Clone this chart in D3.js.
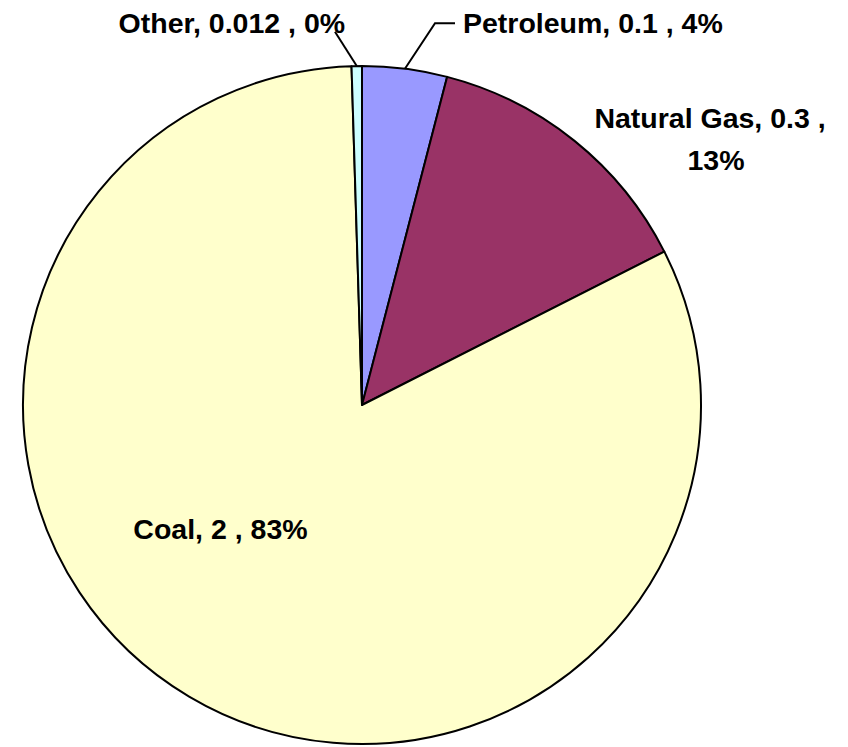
<!DOCTYPE html>
<html>
<head>
<meta charset="utf-8">
<script src="https://cdn.jsdelivr.net/npm/d3@7"></script>
<style>
  body { margin: 0; background: #fff; }
  text { font-family: "Liberation Sans", Arial, sans-serif; font-weight: bold; font-size: 28.5px; fill: #000; }
</style>
</head>
<body>
<div id="chart"></div>
<script>
// data
const categories = ["Petroleum", "Natural Gas", "Coal", "Other"];
const values = [0.0986, 0.329, 2.0, 0.012];
const valueLabels = ["0.1", "0.3", "2", "0.012"];
const pctLabels = ["4%", "13%", "83%", "0%"];

// constants
const w = 848,
      h = 747,
      cx = 362,
      cy = 405,
      r = 339;

const colors = ["#9999FF", "#993366", "#FFFFCC", "#CCFFFF"];

// label placement (polar, degrees clockwise from top)
const labelPos = [
  { a: 15.19, r: 385.5, anchor: "start" },
  { a: 51.45, r: 445, anchor: "middle" },
  { a: 226.56, r: 194.9, anchor: "middle" },
  { a: 357.4, r: 372.4, anchor: "end" }
];
// leader lines: end point in polar, optional horizontal tail
const leaders = {
  0: { a: 10.83, r: 388.6, tail: 20 },
  3: { a: 355.86, r: 374.3, tail: 0 }
};

const polar = (deg, rad) => {
  let t = deg * Math.PI / 180;
  return [rad * Math.sin(t), -rad * Math.cos(t)];
};

let svg = d3.select("#chart")
            .append("svg")
            .attr("width", w)
            .attr("height", h);

let g = svg.append("g")
           .attr("transform", `translate(${cx}, ${cy})`);

let pie = d3.pie().sort(null).value((d) => d);
let arcs = pie(values);
let arc = d3.arc().innerRadius(0).outerRadius(r);

// slices
g.selectAll("path.slice")
 .data(arcs)
 .enter()
 .append("path")
 .attr("class", "slice")
 .attr("d", arc)
 .attr("fill", (d, i) => colors[i])
 .attr("stroke", "#000")
 .attr("stroke-width", 2)
 .attr("stroke-linejoin", "round");

// leader lines
arcs.forEach((d, i) => {
  let l = leaders[i];
  if (!l) return;
  let mid = (d.startAngle + d.endAngle) / 2 * 180 / Math.PI;
  let p0 = polar(mid, r);
  let p1 = polar(l.a, l.r);
  let pts = [p0, p1];
  if (l.tail) pts.push([p1[0] + l.tail, p1[1]]);
  g.append("path")
   .attr("d", d3.line()(pts))
   .attr("fill", "none")
   .attr("stroke", "#000")
   .attr("stroke-width", 2);
});

// labels
arcs.forEach((d, i) => {
  let p = polar(labelPos[i].a, labelPos[i].r);
  let txt = `${categories[i]}, ${valueLabels[i]} , ${pctLabels[i]}`;
  if (i === 1) {
    // wrapped label
    g.append("text")
     .attr("x", p[0]).attr("y", p[1])
     .attr("text-anchor", "middle")
     .text(`${categories[i]}, ${valueLabels[i]} ,`);
    g.append("text")
     .attr("x", p[0] + 6).attr("y", p[1] + 42)
     .attr("text-anchor", "middle")
     .text(pctLabels[i]);
  } else {
    g.append("text")
     .attr("x", p[0]).attr("y", p[1])
     .attr("text-anchor", labelPos[i].anchor)
     .text(txt);
  }
});
</script>
</body>
</html>
